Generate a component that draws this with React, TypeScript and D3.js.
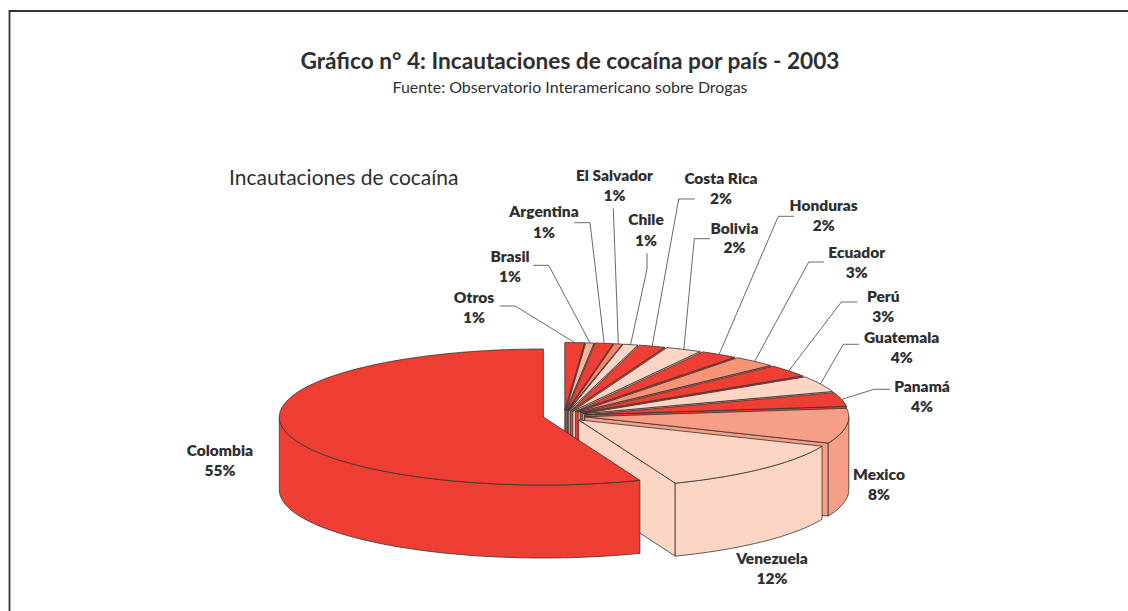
import React from "react";
import * as d3 from "d3";

// ---- data ----
const countries = ["Otros","Brasil","Argentina","El Salvador","Chile","Costa Rica","Bolivia","Honduras","Ecuador","Perú","Guatemala","Panamá","Mexico","Venezuela","Colombia"];
const printedPercent = [1,1,1,1,1,2,2,2,3,3,4,4,8,12,55];
// visual share of each drawn wedge (the printed pie is distorted, so these differ slightly from the printed percents)
const drawnShare = [1.2,0.5,1.1,0.5,0.9,1.6,2.2,2.3,2.7,2.9,3.8,3.3,8.3,12.7,55.9];
const sliceColors = ["#EF3E33","#F9B39C","#EF3E33","#F5876D","#FCD5C4","#EF3E33","#FCD5C4","#EF3E33","#F69478","#EF3E33","#FCD5C4","#EF3E33","#F79E86","#FCD5C4","#EF3E33"];
const titleText = "Gráfico n° 4: Incautaciones de cocaína por país - 2003";
const subtitleText = "Fuente: Observatorio Interamericano sobre Drogas";
const chartText = "Incautaciones de cocaína";

// ---- layout ----
const CX = 564, CY = 416, RX = 264, RY = 68, EXPLODE = 21, DEPTH = 73;
const K = RY / RX;
const FONT = "Lato, 'Open Sans', sans-serif";
const INK = "#2f2f31";
// label centre x, first baseline, second baseline, leader elbow points
const labelLayout: [number, number, number, [number, number][]][] = [
  [474, 303, 323, [[500,306],[515.3,306]]],
  [510, 262, 282, [[533.3,265.3],[548.7,265.3]]],
  [544, 217, 238, [[574.3,222.7],[590,222.7]]],
  [614.5, 181, 201, [[613.3,208.3]]],
  [646, 225, 245.5, [[647,253.3],[647,269]]],
  [721, 184, 204, [[694.7,199],[678.7,199]]],
  [734.5, 234, 253, [[710,238.7],[694.3,238.7]]],
  [823.7, 211, 231, [[794,216.3],[778.3,216.3]]],
  [856.7, 258, 278, [[824,262],[808.7,262]]],
  [883.3, 302, 322, [[857.3,302],[841.3,302]]],
  [901.7, 343, 363, [[859,344.3],[843.3,344.3]]],
  [922, 392, 412, [[890,389.3],[874,389.3]]],
  [879, 480, 500, []],
  [772, 564, 584, []],
  [220, 456, 476, []],
];

const arcs = d3.pie<number>().sort(null).value((d) => d)(drawnShare);
const line = d3.line<[number, number]>();
const close = d3.line<[number, number]>().curve(d3.curveLinearClosed);

function apex(a: number, b: number): [number, number] {
  const m = (a + b) / 2;
  return [CX + EXPLODE * Math.sin(m), CY - EXPLODE * K * Math.cos(m)];
}
function rim(o: [number, number], t: number, dy = 0): [number, number] {
  return [o[0] + RX * Math.sin(t), o[1] - RY * Math.cos(t) + dy];
}
function sweep(o: [number, number], a: number, b: number, dy = 0): [number, number][] {
  const n = Math.max(2, Math.ceil(Math.abs(b - a) / 0.02));
  return d3.range(n + 1).map((i) => rim(o, a + ((b - a) * i) / n, dy));
}

export default function App() {
  return (
    <svg width={1128} height={611} viewBox="0 0 1128 611"
      style={{ position: "absolute", left: 0, top: 0, background: "#fff" }}>
      <path d="M9.5 611 V11 H1128" fill="none" stroke="#333" strokeWidth={1.8} />
      <text x={570} y={69} textAnchor="middle" fontFamily={FONT} fontWeight={700} fontSize={22} fill={INK}
        textLength={539} lengthAdjust="spacingAndGlyphs">{titleText}</text>
      <text x={570} y={93} textAnchor="middle" fontFamily={FONT} fontSize={15.5} fill={INK}
        textLength={355} lengthAdjust="spacingAndGlyphs">{subtitleText}</text>
      <text x={229} y={185} fontFamily={FONT} fontSize={21} fill={INK}>{chartText}</text>

      {arcs.map((s, i) => {
        const o = apex(s.startAngle, s.endAngle);
        const a = s.startAngle, b = s.endAngle;
        const fill = sliceColors[i];
        const isLast = i === arcs.length - 1;
        const wallA = Math.max(a, Math.PI / 2), wallB = Math.min(b, (3 * Math.PI) / 2);
        const rimEnd = rim(o, b);
        return (
          <g key={countries[i]} stroke="#333" strokeWidth={0.8} strokeLinejoin="round">
            {!isLast && b < Math.PI && (
              <path fill={fill} d={close([o, rimEnd, [rimEnd[0], rimEnd[1] + DEPTH], [o[0], o[1] + DEPTH]]) ?? ""} />
            )}
            {wallB > wallA && (
              <path fill={fill} d={close([...sweep(o, wallA, wallB), ...sweep(o, wallB, wallA, DEPTH)]) ?? ""} />
            )}
            <path fill={fill} d={close([o, ...sweep(o, a, b)]) ?? ""} />
          </g>
        );
      })}

      {arcs.map((s, i) => {
        const [lx, y1, y2, elbow] = labelLayout[i];
        const o = apex(s.startAngle, s.endAngle);
        const end = rim(o, (s.startAngle + s.endAngle) / 2);
        return (
          <g key={countries[i]}>
            {elbow.length > 0 && (
              <path d={line([...elbow, end]) ?? ""} fill="none" stroke="#444" strokeWidth={0.8} />
            )}
            <text textAnchor="middle" fontFamily={FONT} fontWeight={800} fontSize={15.5} fill={INK}>
              <tspan x={lx} y={y1}>{countries[i]}</tspan>
              <tspan x={lx} y={y2}>{printedPercent[i]}%</tspan>
            </text>
          </g>
        );
      })}
    </svg>
  );
}
